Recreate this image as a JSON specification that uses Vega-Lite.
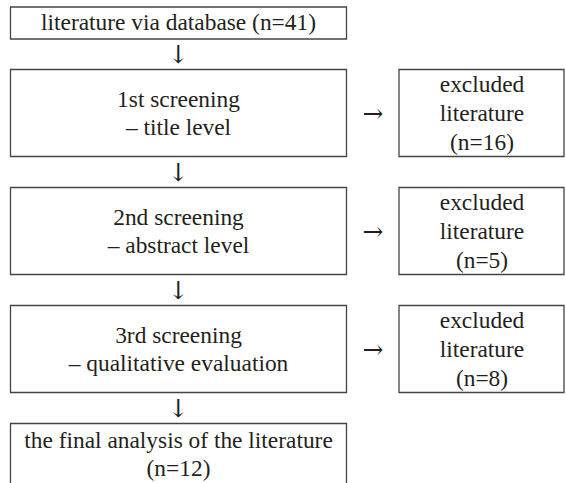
{
  "$schema": "https://vega.github.io/schema/vega-lite/v6.json",
  "width": 566,
  "height": 483,
  "padding": 0,
  "autosize": {"type": "fit", "contains": "padding"},
  "background": "white",
  "config": {"view": {"stroke": null}},
  "datasets": {
    "boxes": [
      {"x1": 10.5, "x2": 346.5, "y1": 7, "y2": 39},
      {"x1": 10.5, "x2": 346.5, "y1": 69.5, "y2": 156.5},
      {"x1": 399, "x2": 564, "y1": 69.5, "y2": 156.5},
      {"x1": 10.5, "x2": 346.5, "y1": 187.5, "y2": 274.5},
      {"x1": 399, "x2": 564, "y1": 187.5, "y2": 274.5},
      {"x1": 10.5, "x2": 346.5, "y1": 305.5, "y2": 392.5},
      {"x1": 399, "x2": 564, "y1": 305.5, "y2": 392.5},
      {"x1": 10.5, "x2": 346.5, "y1": 423.5, "y2": 520}
    ],
    "arrows": [
      {"x": 178.5, "y": 55, "label": "↓"},
      {"x": 373, "y": 114, "label": "→"},
      {"x": 178.5, "y": 173, "label": "↓"},
      {"x": 373, "y": 232, "label": "→"},
      {"x": 178.5, "y": 291, "label": "↓"},
      {"x": 373, "y": 350, "label": "→"},
      {"x": 178.5, "y": 409, "label": "↓"}
    ],
    "labels": [
      {"x": 178.5, "y": 23, "label": "literature via database (n=41)"},
      {"x": 178.5, "y": 100, "label": "1st screening"},
      {"x": 178.5, "y": 128, "label": "– title level"},
      {"x": 482, "y": 85, "label": "excluded"},
      {"x": 482, "y": 114, "label": "literature"},
      {"x": 482, "y": 143, "label": "(n=16)"},
      {"x": 178.5, "y": 218, "label": "2nd screening"},
      {"x": 178.5, "y": 246, "label": "– abstract level"},
      {"x": 482, "y": 203, "label": "excluded"},
      {"x": 482, "y": 232, "label": "literature"},
      {"x": 482, "y": 261, "label": "(n=5)"},
      {"x": 178.5, "y": 336, "label": "3rd screening"},
      {"x": 178.5, "y": 364, "label": "– qualitative evaluation"},
      {"x": 482, "y": 321, "label": "excluded"},
      {"x": 482, "y": 350, "label": "literature"},
      {"x": 482, "y": 379, "label": "(n=8)"},
      {"x": 178.5, "y": 441, "label": "the final analysis of the literature"},
      {"x": 178.5, "y": 469, "label": "(n=12)"}
    ]
  },
  "layer": [
    {
      "data": {"name": "boxes"},
      "mark": {"type": "rect", "fill": "white", "stroke": "#444444", "strokeWidth": 1.3, "clip": true},
      "encoding": {
        "x": {"field": "x1", "type": "quantitative", "scale": {"domain": [0, 566], "nice": false, "zero": false}, "axis": null},
        "x2": {"field": "x2"},
        "y": {"field": "y1", "type": "quantitative", "scale": {"domain": [0, 483], "nice": false, "zero": false, "reverse": true}, "axis": null},
        "y2": {"field": "y2"}
      }
    },
    {
      "data": {"name": "labels"},
      "mark": {"type": "text", "font": "Liberation Serif", "fontSize": 23.4, "color": "#231f20", "align": "center", "baseline": "middle"},
      "encoding": {
        "x": {"field": "x", "type": "quantitative", "scale": {"domain": [0, 566], "nice": false, "zero": false}, "axis": null},
        "y": {"field": "y", "type": "quantitative", "scale": {"domain": [0, 483], "nice": false, "zero": false, "reverse": true}, "axis": null},
        "text": {"field": "label"}
      }
    },
    {
      "data": {"name": "arrows"},
      "mark": {"type": "text", "font": "DejaVu Serif", "fontSize": 25, "color": "#231f20", "align": "center", "baseline": "middle"},
      "encoding": {
        "x": {"field": "x", "type": "quantitative", "scale": {"domain": [0, 566], "nice": false, "zero": false}, "axis": null},
        "y": {"field": "y", "type": "quantitative", "scale": {"domain": [0, 483], "nice": false, "zero": false, "reverse": true}, "axis": null},
        "text": {"field": "label"}
      }
    }
  ]
}
